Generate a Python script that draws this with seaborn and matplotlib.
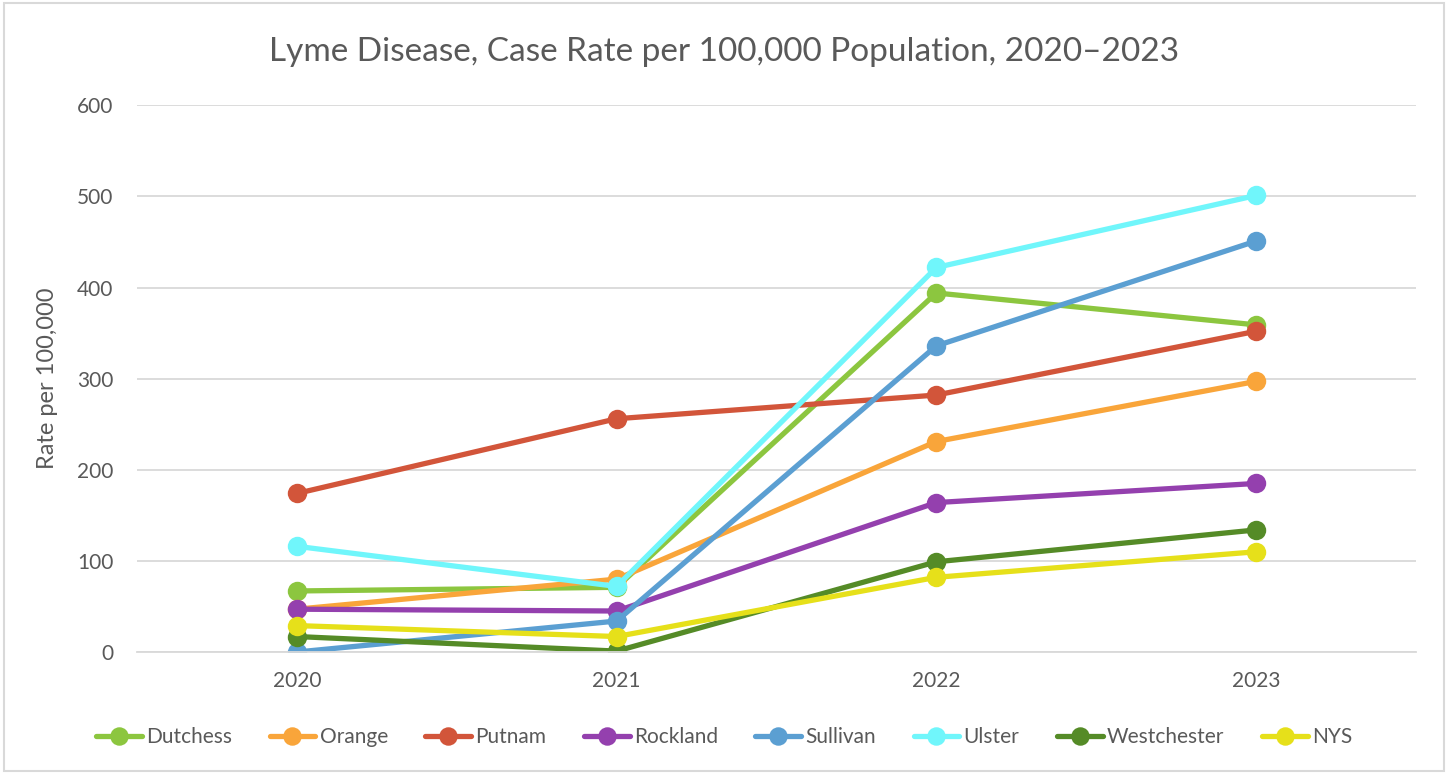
import pandas as pd
import matplotlib.pyplot as plt
import seaborn as sns

# Lyme disease case rates per 100,000
years = ['2020', '2021', '2022', '2023']
dutchess = [67, 71, 394, 359]
orange = [47, 80, 231, 297]
putnam = [174, 256, 282, 352]
rockland = [47, 45, 164, 185]
sullivan = [0, 34, 336, 451]
ulster = [116, 72, 422, 501]
westchester = [17, 1, 99, 134]
nys = [29, 17, 82, 110]

regions = ['Dutchess', 'Orange', 'Putnam', 'Rockland', 'Sullivan', 'Ulster', 'Westchester', 'NYS']
series = [dutchess, orange, putnam, rockland, sullivan, ulster, westchester, nys]
colors = ['#8CC63F', '#F9A53A', '#D2553A', '#9440AE', '#5B9FD2', '#70F6FB', '#558B27', '#E6E01A']

rows = []
for name, vals in zip(regions, series):
    for yr, v in zip(years, vals):
        rows.append({'Year': yr, 'Region': name, 'Rate': v})
df = pd.DataFrame(rows)

sns.set_style('white')
plt.rcParams['font.family'] = ['Lato', 'DejaVu Sans']

fig = plt.figure(figsize=(14.48, 7.74), dpi=100)
ax = fig.add_axes([0.0946, 0.1576, 0.8833, 0.7064])

sns.lineplot(data=df, x='Year', y='Rate', hue='Region', hue_order=regions,
             palette=colors, marker='o', markersize=14, markeredgewidth=0,
             linewidth=3.8, sort=False, ax=ax, legend=True)

ax.set_ylim(0, 600)
ax.set_xlim(-0.5, 3.5)
ax.set_yticks(range(0, 601, 100))
ax.yaxis.grid(True, color='#D9D9D9', linewidth=1.3)
ax.set_axisbelow(True)
for s in ['top', 'right', 'left']:
    ax.spines[s].set_visible(False)
ax.spines['bottom'].set_color('#D9D9D9')
ax.spines['bottom'].set_linewidth(1.3)
ax.tick_params(axis='both', length=0, labelsize=15, colors='#595959')
ax.tick_params(axis='y', pad=17)
ax.tick_params(axis='x', pad=14)
ax.set_xlabel('')
ax.set_ylabel('Rate per 100,000', fontsize=17, color='#595959')
ax.yaxis.set_label_coords(-0.0618, 0.5)

fig.suptitle('Lyme Disease, Case Rate per 100,000 Population, 2020\u20132023',
             fontsize=24, color='#595959', y=0.952)

handles, labels = ax.get_legend_handles_labels()
ax.legend_.remove()
fig.legend(handles, labels, loc='center', bbox_to_anchor=(0.5, 0.048), ncol=8,
           frameon=False, fontsize=15, labelcolor='#595959', handlelength=2.2,
           handletextpad=0.2, columnspacing=1.8, markerscale=0.95)

# light frame around the chart area
fig.patches.append(plt.Rectangle((0.003, 0.004), 0.994, 0.992, transform=fig.transFigure,
                                 fill=False, edgecolor='#D9D9D9', linewidth=1.5))

plt.savefig('out.png', dpi=100)
plt.close()
